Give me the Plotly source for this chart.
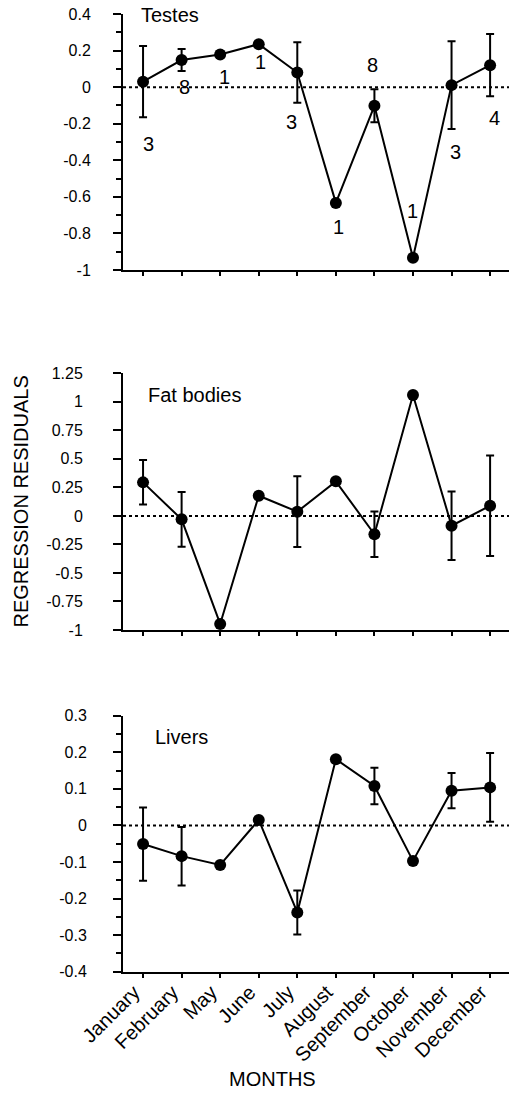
import numpy as np
import plotly.graph_objects as go

# ---------------- data ----------------
months = ["January", "February", "May", "June", "July", "August",
          "September", "October", "November", "December"]

testes = [0.03, 0.148, 0.179, 0.235, 0.08, -0.633, -0.102, -0.933, 0.011, 0.12]
testes_err = [0.195, 0.06, None, None, 0.165, None, 0.09, None, 0.24, 0.17]
testes_n = ["3", "8", "1", "1", "3", "1", "8", "1", "3", "4"]

fat = [0.294, -0.03, -0.947, 0.177, 0.037, 0.303, -0.161, 1.06, -0.086, 0.089]
fat_err = [0.195, 0.24, None, None, 0.31, None, 0.2, None, 0.3, 0.44]

livers = [-0.051, -0.084, -0.108, 0.015, -0.238, 0.181, 0.108, -0.097, 0.095, 0.104]
livers_err = [0.1, 0.08, None, None, 0.06, None, 0.05, None, 0.048, 0.094]

testes_ticks = ["0.4", "0.2", "0", "-0.2", "-0.4", "-0.6", "-0.8", "-1"]
fat_ticks = ["1.25", "1", "0.75", "0.5", "0.25", "0", "-0.25", "-0.5", "-0.75", "-1"]
livers_ticks = ["0.3", "0.2", "0.1", "0", "-0.1", "-0.2", "-0.3", "-0.4"]

# label placement for sample sizes (layout only)
testes_n_y = [-0.312, 0.0, 0.055, 0.137, -0.19, -0.764, 0.12, -0.676, -0.354, -0.171]
testes_n_dx = [5, 3, 4, 2, -6, 3, -2, 0, 4, 4]

FONT = "Liberation Sans, Arial, Helvetica, sans-serif"
W, H = 509, 1093
L = 123                      # y-axis position (px)

fig = go.Figure()
panels = [(testes, testes_err, "x", "y"),
          (fat, fat_err, "x2", "y2"),
          (livers, livers_err, "x3", "y3")]
for vals, errs, xa, ya in panels:
    fig.add_trace(go.Scatter(
        x=months, y=vals, xaxis=xa, yaxis=ya, mode="lines+markers",
        line=dict(color="black", width=2),
        marker=dict(color="black", size=12),
        error_y=dict(type="data", array=errs, visible=True, color="black",
                     thickness=2, width=4),
        showlegend=False, cliponaxis=False))


def ydom(top_px, bot_px):
    return [1 - bot_px / H, 1 - top_px / H]


def yax(dom, labels, minor_step, anchor, standoff):
    vals = [float(t) for t in labels]
    lo, hi = min(vals), max(vals)
    d = dict(domain=dom, range=[lo, hi], tickmode="array", tickvals=vals,
             ticktext=labels, ticks="outside", ticklen=8, tickwidth=2,
             tickcolor="black", showline=True, linewidth=2, linecolor="black",
             showgrid=False, zeroline=False, anchor=anchor,
             tickfont=dict(size=16, color="black", family=FONT),
             ticklabelstandoff=standoff, ticklabeloverflow="allow")
    if minor_step:
        d["minor"] = dict(tickmode="array",
                          tickvals=list(np.arange(lo, hi + 1e-9, minor_step)),
                          ticks="outside", ticklen=5, tickwidth=2,
                          tickcolor="black", showgrid=False)
    return d


def xax(anchor, show):
    return dict(range=[-0.52, 9.49], anchor=anchor, showline=True, linewidth=2,
                linecolor="black", ticks="outside", ticklen=4, tickwidth=2,
                tickcolor="black", showgrid=False, zeroline=False,
                showticklabels=show, tickangle=-45,
                ticklabelshift=-9, ticklabelstandoff=-5,
                ticklabeloverflow="allow",
                tickfont=dict(size=20, color="black", family=FONT))


fig.update_layout(
    width=W, height=H,
    margin=dict(l=L, r=0, t=0, b=0, autoexpand=False),
    paper_bgcolor="white", plot_bgcolor="white",
    font=dict(family=FONT, color="black"),
    xaxis=xax("y", False), xaxis2=xax("y2", False), xaxis3=xax("y3", True),
    yaxis=yax(ydom(14, 270), testes_ticks, 0.1, "x", 19),
    yaxis2=yax(ydom(373.3, 630), fat_ticks, None, "x2", 27),
    yaxis3=yax(ydom(715.7, 971.7), livers_ticks, 0.05, "x3", 23),
)

# dotted zero lines
for xa, ya in [("x", "y"), ("x2", "y2"), ("x3", "y3")]:
    fig.add_shape(type="line", xref=f"{xa} domain", yref=ya, x0=0, x1=1, y0=0, y1=0,
                  line=dict(color="black", width=2, dash="dot"), layer="below")

# panel labels
for text, xa, ya, xp, yp in [("Testes", "x", "y", 0.041, 0.996),
                             ("Fat bodies", "x2", "y2", 0.06, 0.915),
                             ("Livers", "x3", "y3", 0.078, 0.918)]:
    fig.add_annotation(text=text, xref=f"{xa} domain", yref=f"{ya} domain",
                       x=xp, y=yp, xanchor="left", yanchor="middle",
                       showarrow=False, font=dict(size=20, family=FONT, color="black"))

# sample sizes
for m, n, yy, dx in zip(months, testes_n, testes_n_y, testes_n_dx):
    fig.add_annotation(text=n, x=m, y=yy, xref="x", yref="y", xshift=dx,
                       showarrow=False, font=dict(size=20, family=FONT, color="black"))

# axis titles
PW = W - L
fig.add_annotation(text="REGRESSION RESIDUALS", xref="paper", yref="paper",
                   x=(20 - L) / PW, y=1 - 501.5 / H, textangle=-90,
                   xanchor="center", yanchor="middle", showarrow=False,
                   font=dict(size=20, family=FONT, color="black"))
fig.add_annotation(text="MONTHS", xref="paper", yref="paper",
                   x=(272 - L) / PW, y=1 - 1079 / H,
                   xanchor="center", yanchor="middle", showarrow=False,
                   font=dict(size=20, family=FONT, color="black"))

fig.write_html("out.html",
               config={"displayModeBar": False},
               post_script="document.body.style.margin='0px';"
                           "document.body.style.overflow='hidden';")
